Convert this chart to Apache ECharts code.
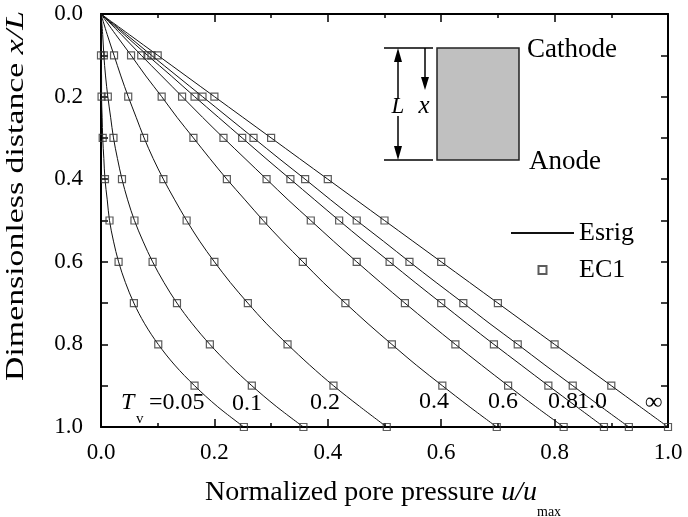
<!DOCTYPE html>
<html>
<head>
<meta charset="utf-8">
<script src="https://cdn.jsdelivr.net/npm/echarts@6/dist/echarts.min.js"></script>
<style>
  html, body { margin: 0; padding: 0; background: #fff; }
  #chart { width: 688px; height: 517px; }
</style>
</head>
<body>
<div id="chart"></div>
<script>
// Dimensionless distance x/L at which each Esrig curve is sampled
const dist = [0, 0.05, 0.1, 0.15, 0.2, 0.25, 0.3, 0.35, 0.4, 0.45, 0.5,
              0.55, 0.6, 0.65, 0.7, 0.75, 0.8, 0.85, 0.9, 0.95, 1.0];

// Esrig analytical solution, normalized pore pressure u/umax for each Tv
const esrigTv005 = [0, 0.000, 0.000, 0.001, 0.001, 0.002, 0.003, 0.005, 0.007, 0.011, 0.015,
                    0.022, 0.031, 0.043, 0.058, 0.077, 0.101, 0.130, 0.165, 0.205, 0.252];
const esrigTv01  = [0, 0.003, 0.005, 0.008, 0.012, 0.017, 0.022, 0.029, 0.037, 0.047, 0.059,
                    0.074, 0.091, 0.111, 0.134, 0.161, 0.192, 0.227, 0.266, 0.309, 0.357];
const esrigTv02  = [0, 0.011, 0.023, 0.035, 0.048, 0.062, 0.076, 0.092, 0.110, 0.130, 0.151,
                    0.174, 0.200, 0.228, 0.259, 0.292, 0.329, 0.368, 0.410, 0.456, 0.504];
const esrigTv04  = [0, 0.026, 0.053, 0.079, 0.107, 0.134, 0.163, 0.192, 0.222, 0.254, 0.286,
                    0.320, 0.356, 0.392, 0.431, 0.471, 0.513, 0.556, 0.602, 0.649, 0.698];
const esrigTv06  = [0, 0.036, 0.071, 0.107, 0.143, 0.179, 0.216, 0.254, 0.292, 0.330, 0.370,
                    0.410, 0.451, 0.493, 0.536, 0.580, 0.625, 0.671, 0.718, 0.766, 0.816];
const esrigTv08  = [0, 0.041, 0.082, 0.124, 0.165, 0.207, 0.249, 0.291, 0.334, 0.377, 0.420,
                    0.464, 0.509, 0.554, 0.600, 0.646, 0.693, 0.741, 0.789, 0.838, 0.887];
const esrigTv10  = [0, 0.045, 0.089, 0.134, 0.179, 0.224, 0.269, 0.314, 0.360, 0.405, 0.451,
                    0.498, 0.544, 0.591, 0.639, 0.686, 0.735, 0.783, 0.832, 0.881, 0.931];
const esrigTvInf = [0, 0.05, 0.1, 0.15, 0.2, 0.25, 0.3, 0.35, 0.4, 0.45, 0.5,
                    0.55, 0.6, 0.65, 0.7, 0.75, 0.8, 0.85, 0.9, 0.95, 1.0];

// EC1 numerical results at every 0.1 of x/L
const ec1Dist = [0.1, 0.2, 0.3, 0.4, 0.5, 0.6, 0.7, 0.8, 0.9, 1.0];
const ec1Tv005 = [0.000, 0.001, 0.003, 0.007, 0.015, 0.031, 0.058, 0.101, 0.165, 0.252];
const ec1Tv01  = [0.005, 0.012, 0.022, 0.037, 0.059, 0.091, 0.134, 0.192, 0.266, 0.357];
const ec1Tv02  = [0.023, 0.048, 0.076, 0.110, 0.151, 0.200, 0.259, 0.329, 0.410, 0.504];
const ec1Tv04  = [0.053, 0.107, 0.163, 0.222, 0.286, 0.356, 0.431, 0.513, 0.602, 0.698];
const ec1Tv06  = [0.071, 0.143, 0.216, 0.292, 0.370, 0.451, 0.536, 0.625, 0.718, 0.816];
const ec1Tv08  = [0.082, 0.165, 0.249, 0.334, 0.420, 0.509, 0.600, 0.693, 0.789, 0.887];
const ec1Tv10  = [0.089, 0.179, 0.269, 0.360, 0.451, 0.544, 0.639, 0.735, 0.832, 0.931];
const ec1TvInf = [0.1, 0.2, 0.3, 0.4, 0.5, 0.6, 0.7, 0.8, 0.9, 1.0];

// Curve labels
const tvLabels = ['0.1', '0.2', '0.4', '0.6', '0.8', '1.0', '\u221E'];

const esrigCurves = [esrigTv005, esrigTv01, esrigTv02, esrigTv04, esrigTv06, esrigTv08, esrigTv10, esrigTvInf];
const ec1Curves = [ec1Tv005, ec1Tv01, ec1Tv02, ec1Tv04, ec1Tv06, ec1Tv08, ec1Tv10, ec1TvInf];

const FONT = '"Liberation Serif", "Times New Roman", serif';
const INK = '#000';
const SQUARE = 'path://M0,0h10v10h-10z';

const series = [];
esrigCurves.forEach(function (curve) {
  series.push({
    name: 'Esrig',
    type: 'line',
    symbol: 'none',
    smooth: 0.35,
    clip: false,
    itemStyle: { color: '#111' },
    lineStyle: { color: '#111', width: 1 },
    z: 2,
    data: dist.map(function (d, i) { return [curve[i], d]; })
  });
});
ec1Curves.forEach(function (pts) {
  series.push({
    name: 'EC1',
    type: 'scatter',
    symbol: 'rect',
    symbolSize: 7,
    clip: false,
    itemStyle: { color: 'rgba(0,0,0,0)', borderColor: '#333', borderWidth: 1.2 },
    z: 3,
    data: ec1Dist.map(function (d, i) { return [pts[i], d]; })
  });
});

function txt(x, y, text, size, opts) {
  opts = opts || {};
  return {
    type: 'text', x: x, y: y, z: 10,
    rotation: opts.rotation || 0,
    scaleX: opts.scaleX || 1,
    style: {
      text: text,
      fontSize: size,
      fontFamily: FONT,
      fontStyle: opts.italic ? 'italic' : 'normal',
      fontWeight: opts.bold ? 'bold' : 'normal',
      fill: INK,
      align: opts.align || 'left',
      verticalAlign: 'middle',
      rich: opts.rich
    }
  };
}

const annoFont = 24;
const tvLabelPos = [[232, 404], [310, 403], [419, 402], [488, 402], [548, 402], [577, 402], [645, 403]];

const graphic = [
  // inset: specimen between cathode and anode
  { type: 'rect', z: 5, shape: { x: 437, y: 48, width: 82, height: 112 },
    style: { fill: '#c0c0c0', stroke: '#222', lineWidth: 1.5 } },
  { type: 'line', z: 5, shape: { x1: 384, y1: 48, x2: 433, y2: 48 }, style: { stroke: INK, lineWidth: 1.5 } },
  { type: 'line', z: 5, shape: { x1: 384, y1: 160, x2: 433, y2: 160 }, style: { stroke: INK, lineWidth: 1.5 } },
  { type: 'line', z: 5, shape: { x1: 398, y1: 60, x2: 398, y2: 99 }, style: { stroke: INK, lineWidth: 1.5 } },
  { type: 'line', z: 5, shape: { x1: 398, y1: 116, x2: 398, y2: 148 }, style: { stroke: INK, lineWidth: 1.5 } },
  { type: 'polygon', z: 5, shape: { points: [[398, 48], [394, 62], [402, 62]] }, style: { fill: INK } },
  { type: 'polygon', z: 5, shape: { points: [[398, 160], [394, 146], [402, 146]] }, style: { fill: INK } },
  { type: 'line', z: 5, shape: { x1: 425, y1: 48, x2: 425, y2: 79 }, style: { stroke: INK, lineWidth: 1.5 } },
  { type: 'polygon', z: 5, shape: { points: [[425, 90], [421, 77], [429, 77]] }, style: { fill: INK } },
  txt(398, 107, 'L', 23, { italic: true, align: 'center' }),
  txt(424, 106, 'x', 25, { italic: true, align: 'center' }),
  txt(527, 50, 'Cathode', 27),
  txt(529, 162, 'Anode', 27),

  // Tv labels
  txt(121, 403, 'T', annoFont, { italic: true }),
  txt(136, 419, 'v', 15),
  txt(149, 403, '=0.05', annoFont)
];
tvLabels.forEach(function (t, i) {
  graphic.push(txt(tvLabelPos[i][0], tvLabelPos[i][1], t, annoFont, { bold: t === '\u221E' }));
});

// axis titles
graphic.push(txt(205, 493, '{r|Normalized pore pressure }{i|u/u}', 28, {
  rich: {
    r: { fontSize: 28, fontFamily: FONT, fill: INK },
    i: { fontSize: 28, fontFamily: FONT, fontStyle: 'italic', fill: INK }
  }
}));
graphic.push(txt(537, 512, 'max', 14));
graphic.push(txt(16, 196, '{r|Dimensionless distance }{i|x/L}', 26, {
  rotation: Math.PI / 2, scaleX: 1.3, align: 'center',
  rich: {
    r: { fontSize: 26, fontFamily: FONT, fill: INK },
    i: { fontSize: 26, fontFamily: FONT, fontStyle: 'italic', fill: INK }
  }
}));

const axisLine = { show: true, onZero: false, lineStyle: { color: INK, width: 2 } };
const fmt = function (v) { return v.toFixed(1); };

function xAxisDef(pos, labels) {
  return {
    type: 'value', position: pos, min: 0, max: 1, interval: 0.2,
    axisLine: axisLine,
    axisTick: { show: true, inside: true, length: 8, lineStyle: { color: INK, width: 1.5 } },
    minorTick: { show: true, splitNumber: 2, length: 4, lineStyle: { color: INK, width: 1.5 } },
    splitLine: { show: false },
    minorSplitLine: { show: false },
    axisLabel: { show: labels, margin: 14, fontSize: 23, fontFamily: FONT, color: INK, formatter: fmt }
  };
}
function yAxisDef(pos, labels) {
  return {
    type: 'value', position: pos, inverse: true, min: 0, max: 1, interval: 0.1,
    axisLine: axisLine,
    axisTick: { show: true, inside: true, length: 7, lineStyle: { color: INK, width: 1.5 } },
    splitLine: { show: false },
    axisLabel: {
      show: labels, margin: 18, fontSize: 23, fontFamily: FONT, color: INK,
      formatter: function (v) { return Math.round(v * 10) % 2 === 0 ? v.toFixed(1) : ''; }
    }
  };
}

const chart = echarts.init(document.getElementById('chart'), null, { renderer: 'canvas' });
chart.setOption({
  animation: false,
  backgroundColor: '#fff',
  grid: { left: 101, top: 14, right: 20, bottom: 90, containLabel: false },
  xAxis: [xAxisDef('bottom', true), xAxisDef('top', false)],
  yAxis: [yAxisDef('left', true), yAxisDef('right', false)],
  legend: {
    data: [
      { name: 'Esrig', itemStyle: { opacity: 0 } },
      { name: 'EC1', icon: SQUARE }
    ],
    orient: 'vertical',
    left: 510, top: 220,
    padding: 0,
    itemWidth: 63, itemHeight: 8, itemGap: 11,
    symbolKeepAspect: true,
    textStyle: { fontSize: 26, fontFamily: FONT, color: INK }
  },
  graphic: graphic,
  series: series
});
</script>
</body>
</html>
